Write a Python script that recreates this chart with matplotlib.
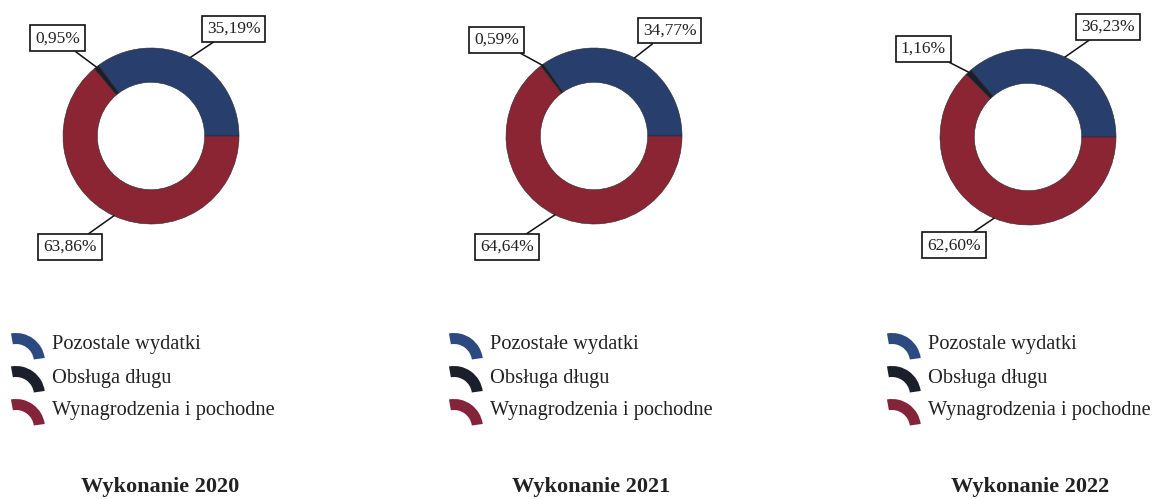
import numpy as np
import matplotlib
matplotlib.use("Agg")
import matplotlib.pyplot as plt
from matplotlib.patches import Wedge

plt.rcParams['font.family'] = ['Liberation Serif', 'DejaVu Serif']

years = ["2020", "2021", "2022"]
pozostale = [35.19, 34.77, 36.23]
obsluga = [0.95, 0.59, 1.16]
wynagrodzenia = [63.86, 64.64, 62.60]
legend_labels = [
    ["Pozostale wydatki", "Obsługa długu", "Wynagrodzenia i pochodne"],
    ["Pozostałe wydatki", "Obsługa długu", "Wynagrodzenia i pochodne"],
    ["Pozostale wydatki", "Obsługa długu", "Wynagrodzenia i pochodne"],
]

colors = ["#283f6e", "#1b1f2b", "#8b2533"]
icon_colors = ["#2c4a80", "#1b1f2b", "#84243a"]

W, H = 1163, 499
R = 88
centers = [(151, 136), (594, 136), (1028, 137)]
# label box positions, in units of the donut radius
label_pos = [
    [(0.94, 1.22), (-1.06, 1.11), (-0.92, -1.26)],
    [(0.86, 1.20), (-1.11, 1.09), (-0.99, -1.26)],
    [(0.91, 1.25), (-1.19, 1.00), (-0.84, -1.23)],
]
legend_x = [10, 448, 886]
legend_rows = [345, 378, 411]
title_x = [160, 591, 1030]

fig = plt.figure(figsize=(W / 100, H / 100), dpi=100)

# overlay in pixel coordinates for legends and titles
ov = fig.add_axes([0, 0, 1, 1])
ov.set_xlim(0, W)
ov.set_ylim(H, 0)
ov.axis('off')

for i, year in enumerate(years):
    cx, cy = centers[i]
    ax = fig.add_axes([(cx - R) / W, (H - cy - R) / H, 2 * R / W, 2 * R / H])
    vals = [pozostale[i], obsluga[i], wynagrodzenia[i]]
    wedges, _ = ax.pie(vals, colors=colors, startangle=0, counterclock=True,
                       wedgeprops=dict(width=0.39, edgecolor='#2a2a2a', linewidth=0.4))
    ax.set_xlim(-1, 1)
    ax.set_ylim(-1, 1)
    ax.axis('off')

    for w, v, pos in zip(wedges, vals, label_pos[i]):
        mid = np.deg2rad((w.theta1 + w.theta2) / 2)
        ax.annotate(f"{v:.2f}%".replace('.', ','),
                    xy=(np.cos(mid), np.sin(mid)), xytext=pos,
                    ha='center', va='center', fontsize=12.5, color='#222222',
                    bbox=dict(boxstyle='square,pad=0.28', fc='white', ec='#111111', lw=1.2),
                    arrowprops=dict(arrowstyle='-', color='#111111', lw=1.1,
                                    shrinkA=0, shrinkB=0),
                    annotation_clip=False)

    # legend
    for j, lab in enumerate(legend_labels[i]):
        x0 = legend_x[i]
        y0 = legend_rows[j]
        ov.add_patch(Wedge((x0 + 6, y0 + 17), 29, -100, -8, width=11,
                           facecolor=icon_colors[j], edgecolor='none'))
        ov.text(x0 + 42, y0, lab, fontsize=14.7, va='center', ha='left', color='#222222')

    ov.text(title_x[i], 487, f"Wykonanie {year}", fontsize=16, fontweight='bold',
            ha='center', va='center', color='#222222')

fig.savefig("out.png", dpi=100, facecolor='white')
